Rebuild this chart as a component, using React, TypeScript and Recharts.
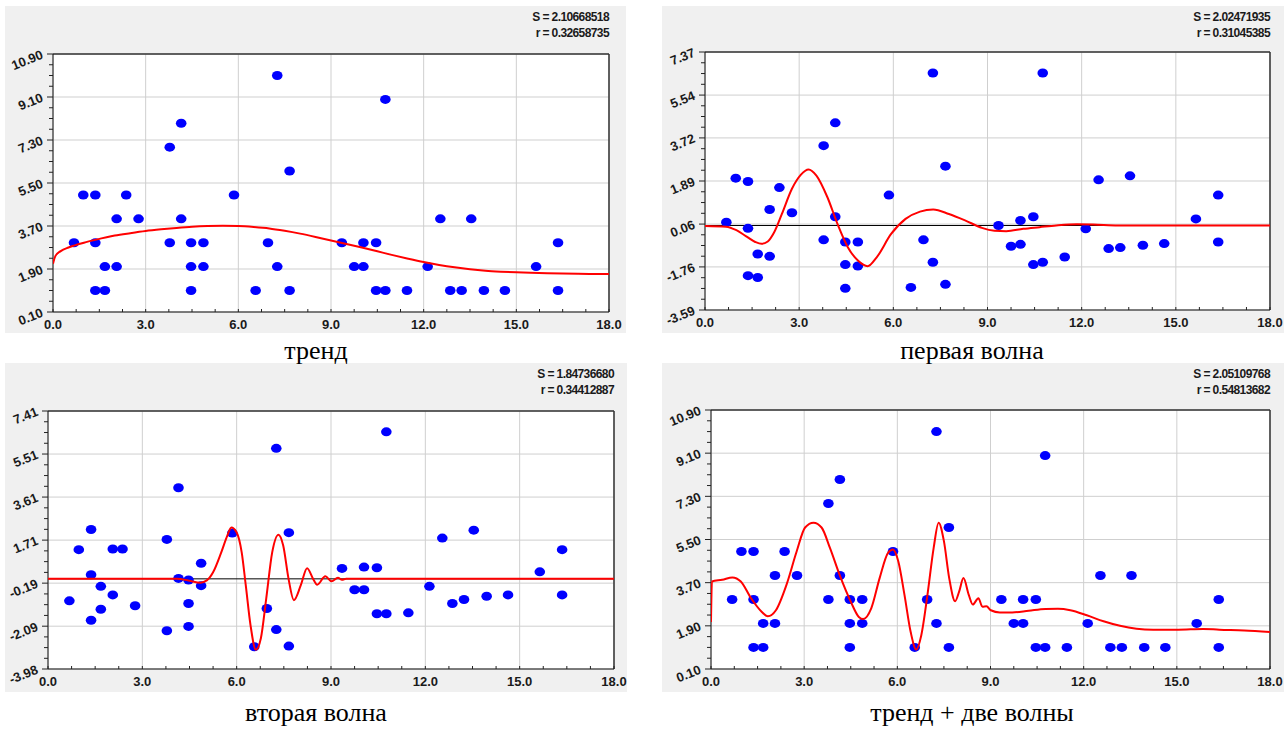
import { ScatterChart, Scatter, XAxis, YAxis, CartesianGrid, ReferenceLine } from "recharts";

// observations (x, observed value) and residuals after the trend / after the first wave
const obsX = [
  0.68, 0.98, 1.37, 1.37, 1.37, 1.68, 1.68, 2.06, 2.06, 2.37, 2.77, 3.78, 3.78, 4.15, 4.15, 4.47,
  4.47, 4.47, 4.87, 4.87, 5.86, 6.56, 6.96, 7.26, 7.26, 7.66, 7.66, 9.35, 9.75, 10.05, 10.05, 10.46,
  10.46, 10.76, 10.76, 11.46, 12.13, 12.54, 12.86, 13.23, 13.54, 13.95, 14.63, 15.64, 16.35, 16.35,
];
const obsY = [
  3, 5, 5, 3, 1, 2, 1, 4, 2, 5, 4, 7, 3, 8, 4, 3, 2, 1, 3, 2, 5, 1, 3, 10, 2, 6, 1, 3, 2, 3, 2, 3, 1, 9,
  1, 1, 2, 4, 1, 1, 4, 1, 1, 2, 3, 1,
];
const resid1 = [
  0.14, 2.01, 1.87, -0.12, -2.13, -1.21, -2.21, 0.68, -1.31, 1.61, 0.54, 3.39, -0.61, 4.36, 0.37,
  -0.7, -1.66, -2.67, -0.7, -1.72, 1.29, -2.63, -0.61, 6.48, -1.56, 2.52, -2.5, 0.0, -0.88, 0.21,
  -0.8, 0.37, -1.66, 6.48, -1.56, -1.34, -0.14, 1.94, -0.98, -0.94, 2.11, -0.84, -0.77, 0.28, 1.29,
  -0.7,
];
const resid2 = [
  -0.97, 1.29, 2.18, 0.18, -1.83, -0.33, -1.34, 1.32, -0.71, 1.32, -1.19, 1.74, -2.29, 4.02, 0.02,
  -0.05, -1.09, -2.1, 0.69, -0.3, 2.02, -3.0, -1.31, 5.76, -2.24, 2.04, -2.97, 0.46, -0.48, 0.52,
  -0.48, 0.49, -1.54, 6.49, -1.54, -1.5, -0.33, 1.8, -1.09, -0.91, 2.15, -0.77, -0.71, 0.31, 1.29,
  -0.71,
];

// fitted curves
const trendX = [0, 0.08, 0.25, 0.5, 0.68, 1, 1.37, 2, 2.5, 3, 3.5, 4, 4.5, 5, 5.5, 6, 6.5, 7, 7.5, 8, 8.5, 9, 9.5, 10, 10.5, 11, 11.5, 12, 12.5, 13, 13.5, 14, 14.5, 15, 16, 17, 18];
const trendY = [2.12, 2.45, 2.65, 2.8, 2.88, 3.0, 3.12, 3.3, 3.4, 3.49, 3.56, 3.62, 3.67, 3.7, 3.71, 3.7, 3.66, 3.6, 3.5, 3.38, 3.24, 3.09, 2.95, 2.8, 2.64, 2.48, 2.33, 2.19, 2.07, 1.97, 1.89, 1.83, 1.79, 1.76, 1.72, 1.7, 1.69];

const wave1X = [0, 0.67, 1.0, 1.3, 1.6, 1.8, 2.0, 2.2, 2.45, 2.77, 3.05, 3.3, 3.55, 3.9, 4.22, 4.55, 4.88, 5.18, 5.47, 5.93, 6.39, 6.85, 7.27, 7.77, 8.3, 8.82, 9.22, 9.6, 10.14, 10.66, 11.19, 11.85, 12.37, 13.16, 18];
const wave1Y = [-0.02, -0.05, -0.2, -0.45, -0.7, -0.78, -0.68, -0.3, 0.49, 1.56, 2.15, 2.38, 2.12, 1.2, 0.07, -0.92, -1.5, -1.73, -1.35, -0.36, 0.28, 0.59, 0.68, 0.49, 0.21, -0.1, -0.22, -0.24, -0.14, -0.07, 0.0, 0.05, 0.04, 0.0, 0.0];

const wave2X = [0, 4.1, 4.46, 4.85, 5.05, 5.25, 5.51, 5.7, 5.83, 6.0, 6.16, 6.29, 6.44, 6.61, 6.77, 6.94, 7.13, 7.33, 7.48, 7.65, 7.82, 8.04, 8.24, 8.43, 8.56, 8.82, 9.02, 9.22, 9.35, 9.48, 18];
const wave2Y = [0, 0, -0.07, -0.17, -0.07, 0.29, 1.17, 1.9, 2.27, 2.05, 1.17, -0.29, -2.04, -3.13, -2.62, -0.87, 1.17, 1.95, 1.47, 0.0, -0.94, -0.28, 0.47, 0.0, -0.26, 0.11, -0.11, 0.05, -0.04, 0, 0];

const fitX = [0, 0.03, 0.36, 0.69, 0.96, 1.29, 1.63, 1.83, 2.09, 2.43, 2.76, 3.03, 3.3, 3.56, 3.83, 4.16, 4.5, 4.76, 4.9, 5.16, 5.43, 5.7, 5.86, 6.03, 6.23, 6.43, 6.61, 6.77, 6.97, 7.17, 7.33, 7.5, 7.67, 7.86, 7.99, 8.13, 8.3, 8.43, 8.61, 8.74, 8.87, 9.01, 9.3, 9.7, 10.23, 10.77, 11.17, 11.57, 12.1, 12.64, 13.17, 13.7, 14.24, 15.04, 15.84, 16.37, 17.17, 18];
const fitY = [2.06, 3.75, 3.82, 3.92, 3.75, 3.05, 2.49, 2.3, 2.55, 3.61, 5.01, 6.0, 6.2, 6.0, 5.15, 3.96, 2.91, 2.27, 2.18, 2.63, 3.89, 4.94, 5.08, 4.59, 3.19, 1.64, 0.91, 1.5, 3.19, 5.15, 6.2, 5.43, 3.89, 2.93, 3.33, 3.89, 3.19, 2.79, 3.05, 2.7, 2.72, 2.55, 2.46, 2.46, 2.53, 2.6, 2.61, 2.55, 2.34, 2.09, 1.9, 1.78, 1.74, 1.74, 1.77, 1.74, 1.71, 1.64];

// tick labels
const xTicks = [0, 3, 6, 9, 12, 15, 18];
const yTicksLevel = [0.1, 1.9, 3.7, 5.5, 7.3, 9.1, 10.9];
const yTicksWave1 = [-3.59, -1.76, 0.06, 1.89, 3.72, 5.54, 7.37];
const yTicksWave2 = [-3.98, -2.09, -0.19, 1.71, 3.61, 5.51, 7.41];

const captions = ["тренд", "первая волна", "вторая волна", "тренд + две волны"];
const statS = ["2.10668518", "2.02471935", "1.84736680", "2.05109768"];
const statR = ["0.32658735", "0.31045385", "0.34412887", "0.54813682"];

const pairs = (xs: number[], ys: number[]) => xs.map((x, i) => ({ x, y: ys[i] }));

// major ticks plus 3 minor ticks in each interval
const withMinor = (major: number[]) => {
  const out: number[] = [];
  for (let i = 0; i < major.length - 1; i++) {
    const step = (major[i + 1] - major[i]) / 4;
    for (let k = 0; k < 4; k++) out.push(major[i] + step * k);
  }
  out.push(major[major.length - 1]);
  return out;
};

const isIn = (v: number, list: number[]) => list.some((m) => Math.abs(m - v) < 1e-6);

const GAP = 9;
const LABEL_FONT = "'Liberation Sans', Arial, sans-serif";

function makeYTick(majors: number[]) {
  return function YTick(props: any) {
    const { x, y, payload } = props;
    const ax = x + GAP;
    const major = isIn(payload.value, majors);
    const tx = ax - 9;
    const ty = y + 4;
    return (
      <g>
        <line x1={ax - (major ? 6 : 4)} x2={ax} y1={y} y2={y} stroke="#222" />
        {major && (
          <text
            x={tx}
            y={ty}
            textAnchor="end"
            transform={`rotate(-22 ${tx} ${ty})`}
            fontFamily={LABEL_FONT}
            fontWeight="bold"
            fontSize={13}
            fill="#1a1a1a"
          >
            {payload.value.toFixed(2)}
          </text>
        )}
      </g>
    );
  };
}

function XTick(props: any) {
  const { x, y, payload } = props;
  const ay = y - GAP;
  const major = isIn(payload.value, xTicks);
  return (
    <g>
      <line x1={x} x2={x} y1={ay} y2={ay - 3} stroke="#222" />
      {major && (
        <text x={x} y={ay + 17} textAnchor="middle" fontFamily={LABEL_FONT} fontWeight="bold" fontSize={13} fill="#1a1a1a">
          {payload.value.toFixed(1)}
        </text>
      )}
    </g>
  );
}

const Dot = (p: any) => <ellipse cx={p.cx} cy={p.cy} rx={5.3} ry={4.5} fill="#0000ff" />;
const NoDot = () => <g />;

type Layout = { left: number; top: number; width: number; height: number; mTop: number; mRight: number; yW: number; xH: number };

const layouts: Layout[] = [
  { left: 5, top: 6, width: 621, height: 327, mTop: 48, mRight: 17, yW: 48, xH: 21 },
  { left: 662, top: 6, width: 622, height: 327, mTop: 46, mRight: 14, yW: 43, xH: 23 },
  { left: 5, top: 363, width: 622, height: 329, mTop: 48, mRight: 13, yW: 43, xH: 23 },
  { left: 662, top: 363, width: 622, height: 329, mTop: 47, mRight: 14, yW: 49, xH: 23 },
];

type PanelProps = {
  idx: number;
  yMajor: number[];
  points: { x: number; y: number }[];
  curve: { x: number; y: number }[];
  zero?: boolean;
};

function Panel({ idx, yMajor, points, curve, zero }: PanelProps) {
  const L = layouts[idx];
  const yMin = yMajor[0];
  const yMax = yMajor[yMajor.length - 1];
  const plotRight = L.width - L.mRight;
  return (
    <div style={{ position: "absolute", left: L.left, top: L.top, width: L.width, height: L.height, background: "#f0f0f0" }}>
      <div
        style={{
          position: "absolute",
          right: L.width - plotRight,
          top: 3,
          textAlign: "right",
          fontFamily: LABEL_FONT,
          fontWeight: "bold",
          fontSize: 12,
          lineHeight: "16px",
          letterSpacing: -0.6,
          color: "#1a1a1a",
          whiteSpace: "nowrap",
        }}
      >
        <div>S = {statS[idx]}</div>
        <div>r = {statR[idx]}</div>
      </div>
      <ScatterChart width={L.width} height={L.height} margin={{ top: L.mTop, right: L.mRight, bottom: 0, left: 0 }}>
        <CartesianGrid fill="#ffffff" fillOpacity={1} stroke="#cfcfcf" horizontalValues={yMajor} verticalValues={xTicks} />
        <XAxis
          type="number"
          dataKey="x"
          domain={[0, 18]}
          allowDataOverflow
          ticks={withMinor(xTicks)}
          interval={0}
          height={L.xH}
          tickSize={0}
          tickMargin={GAP}
          tickLine={false}
          tick={<XTick />}
          axisLine={{ stroke: "#111" }}
        />
        <YAxis
          type="number"
          dataKey="y"
          domain={[yMin, yMax]}
          allowDataOverflow
          ticks={withMinor(yMajor)}
          interval={0}
          width={L.yW}
          tickSize={0}
          tickMargin={GAP}
          tickLine={false}
          tick={makeYTick(yMajor)}
          axisLine={{ stroke: "#111" }}
        />
        <ReferenceLine y={yMax} stroke="#333" strokeWidth={1.5} />
        <ReferenceLine x={18} stroke="#333" strokeWidth={1.5} />
        {zero && <ReferenceLine y={0} stroke="#000" strokeWidth={1} />}
        <Scatter data={points} shape={Dot} isAnimationActive={false} />
        <Scatter
          data={curve}
          shape={NoDot}
          fill="#ff0000"
          line={{ stroke: "#ff0000", strokeWidth: 2 }}
          lineType="joint"
          lineJointType="monotoneX"
          isAnimationActive={false}
        />
      </ScatterChart>
    </div>
  );
}

const captionPos = [
  { x: 316, y: 359 },
  { x: 972, y: 359 },
  { x: 316, y: 721 },
  { x: 972, y: 721 },
];

export default function App() {
  const level = pairs(obsX, obsY);
  return (
    <div style={{ position: "absolute", left: 0, top: 0, width: 1286, height: 729, background: "#ffffff", overflow: "hidden" }}>
      <Panel idx={0} yMajor={yTicksLevel} points={level} curve={pairs(trendX, trendY)} />
      <Panel idx={1} yMajor={yTicksWave1} points={pairs(obsX, resid1)} curve={pairs(wave1X, wave1Y)} zero />
      <Panel idx={2} yMajor={yTicksWave2} points={pairs(obsX, resid2)} curve={pairs(wave2X, wave2Y)} zero />
      <Panel idx={3} yMajor={yTicksLevel} points={level} curve={pairs(fitX, fitY)} />
      <svg width={1286} height={729} style={{ position: "absolute", left: 0, top: 0, pointerEvents: "none" }}>
        {captions.map((c, i) => (
          <text
            key={c}
            x={captionPos[i].x}
            y={captionPos[i].y}
            textAnchor="middle"
            fontFamily="'Liberation Serif', 'Times New Roman', serif"
            fontSize={26}
            fill="#000"
          >
            {c}
          </text>
        ))}
      </svg>
    </div>
  );
}
